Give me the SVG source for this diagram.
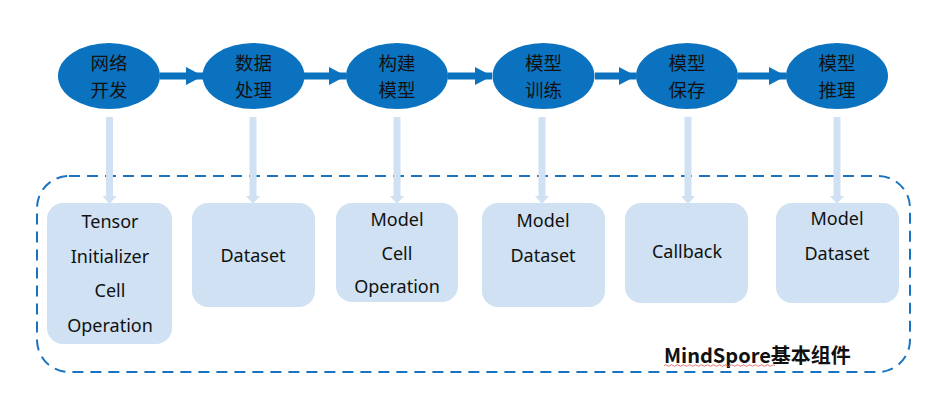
<svg xmlns="http://www.w3.org/2000/svg" width="951" height="408" viewBox="0 0 951 408">
<style>
.step{fill:#0b72c0;}
.stext{font-family:"Noto Sans CJK SC","Noto Sans",sans-serif;font-size:18.5px;fill:#111;text-anchor:middle;}
.box{fill:#cfe1f2;}
.btext{font-family:"Noto Sans","Open Sans",sans-serif;font-size:18px;fill:#111;text-anchor:middle;}
.flow{stroke:#0b72c0;stroke-width:7;fill:none;}
.down{stroke:#cfe1f2;stroke-width:7;fill:none;}
.frame{fill:none;stroke:#1a73c0;stroke-width:2;stroke-dasharray:11 7;}
.title{font-family:"Noto Sans CJK SC","Noto Sans",sans-serif;font-size:20px;font-weight:bold;fill:#111;}
</style>
<defs>
<marker id="ah" markerUnits="userSpaceOnUse" markerWidth="18" markerHeight="18" refX="17" refY="9" orient="auto">
<path d="M0,0 L17,9 L0,18 Z" fill="#0b72c0"/>
</marker>
</defs>

<rect id="frame" class="frame" x="37" y="176" width="873" height="196" rx="32" ry="32"/>

<g id="connectors">
<line class="flow" x1="160" y1="76" x2="203" y2="76" marker-end="url(#ah)"/>
<line class="flow" x1="304" y1="76" x2="346" y2="76" marker-end="url(#ah)"/>
<line class="flow" x1="448" y1="76" x2="492" y2="76" marker-end="url(#ah)"/>
<line class="flow" x1="595" y1="76" x2="636" y2="76" marker-end="url(#ah)"/>
<line class="flow" x1="738" y1="76" x2="786" y2="76" marker-end="url(#ah)"/>
<line class="down" x1="109.5" y1="117" x2="109.5" y2="198"/>
<line class="down" x1="253" y1="117" x2="253" y2="198"/>
<line class="down" x1="397" y1="117" x2="397" y2="198"/>
<line class="down" x1="542" y1="117" x2="542" y2="198"/>
<line class="down" x1="688" y1="117" x2="688" y2="198"/>
<line class="down" x1="837" y1="117" x2="837" y2="198"/>
<path d="M102.5,196 L116.5,196 L109.5,204 Z" fill="#cfe1f2"/>
<path d="M246,196 L260,196 L253,204 Z" fill="#cfe1f2"/>
<path d="M390,196 L404,196 L397,204 Z" fill="#cfe1f2"/>
<path d="M535,196 L549,196 L542,204 Z" fill="#cfe1f2"/>
<path d="M681,196 L695,196 L688,204 Z" fill="#cfe1f2"/>
<path d="M830,196 L844,196 L837,204 Z" fill="#cfe1f2"/>
</g>

<g id="step1"><ellipse class="step" cx="109" cy="76" rx="51" ry="33"/><text class="stext" x="109" y="70">网络</text><text class="stext" x="109" y="97">开发</text></g>
<g id="step2"><ellipse class="step" cx="253.5" cy="76" rx="51" ry="33"/><text class="stext" x="253.5" y="70">数据</text><text class="stext" x="253.5" y="97">处理</text></g>
<g id="step3"><ellipse class="step" cx="397" cy="76" rx="51" ry="33"/><text class="stext" x="397" y="70">构建</text><text class="stext" x="397" y="97">模型</text></g>
<g id="step4"><ellipse class="step" cx="543.5" cy="76" rx="51" ry="33"/><text class="stext" x="543.5" y="70">模型</text><text class="stext" x="543.5" y="97">训练</text></g>
<g id="step5"><ellipse class="step" cx="687" cy="76" rx="51" ry="33"/><text class="stext" x="687" y="70">模型</text><text class="stext" x="687" y="97">保存</text></g>
<g id="step6"><ellipse class="step" cx="837" cy="76" rx="51" ry="33"/><text class="stext" x="837" y="70">模型</text><text class="stext" x="837" y="97">推理</text></g>

<g id="box1"><rect class="box" x="47" y="203" width="125" height="141" rx="16"/>
<text class="btext" x="110" y="228">Tensor</text><text class="btext" x="110" y="263">Initializer</text><text class="btext" x="110" y="297">Cell</text><text class="btext" x="110" y="332">Operation</text></g>
<g id="box2"><rect class="box" x="192" y="203" width="123" height="104" rx="16"/>
<text class="btext" x="253" y="262">Dataset</text></g>
<g id="box3"><rect class="box" x="336" y="203" width="122" height="99" rx="16"/>
<text class="btext" x="397" y="226">Model</text><text class="btext" x="397" y="260">Cell</text><text class="btext" x="397" y="293">Operation</text></g>
<g id="box4"><rect class="box" x="482" y="203" width="123" height="104" rx="16"/>
<text class="btext" x="543" y="227">Model</text><text class="btext" x="543" y="262">Dataset</text></g>
<g id="box5"><rect class="box" x="625" y="203" width="123" height="100" rx="16"/>
<text class="btext" x="687" y="258">Callback</text></g>
<g id="box6"><rect class="box" x="776" y="203" width="123" height="100" rx="16"/>
<text class="btext" x="837" y="225">Model</text><text class="btext" x="837" y="260">Dataset</text></g>

<g id="label">
<text class="title" x="664" y="363">MindSpore基本组件</text>
<path d="M664,365.5 q1.5,-1.5 3,0 t3,0 t3,0 t3,0 t3,0 t3,0 t3,0 t3,0 t3,0 t3,0 t3,0 t3,0 t3,0 t3,0 t3,0 t3,0 t3,0 t3,0 t3,0 t3,0 t3,0 t3,0 t3,0 t3,0 t3,0 t3,0 t3,0 t3,0 t3,0 t3,0 t3,0 t3,0 t3,0 t3,0 t3,0 t3,0 t3,0" fill="none" stroke="#e05050" stroke-width="0.8"/>
</g>
</svg>
